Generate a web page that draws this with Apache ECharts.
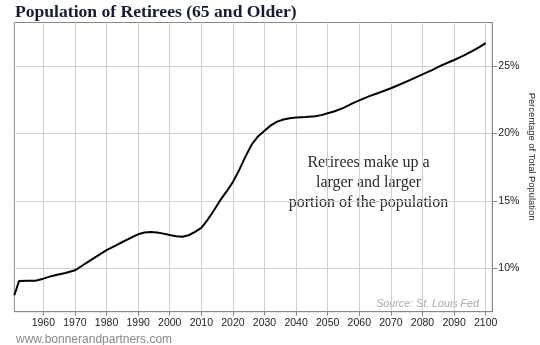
<!DOCTYPE html>
<html>
<head>
<meta charset="utf-8">
<script src="https://cdn.jsdelivr.net/npm/echarts@6/dist/echarts.min.js"></script>
<style>
html,body{margin:0;padding:0;background:#fff;}
#chart{width:540px;height:345px;}
</style>
</head>
<body>
<div id="chart"></div>
<script>
const titleText = 'Population of Retirees (65 and Older)';
const yAxisName = 'Percentage of Total Population';
const noteLines = ['Retirees make up a', 'larger and larger', 'portion of the population'];
const sourceText = 'Source: St. Louis Fed';
const siteText = 'www.bonnerandpartners.com';

const years = [1950.8, 1951.4, 1952.3, 1955, 1957.5, 1960, 1962, 1964, 1967, 1970,
  1972, 1975, 1978, 1980, 1983, 1985, 1988, 1990, 1992, 1994,
  1996, 1998, 2000, 2002, 2004, 2006, 2008, 2010, 2012, 2014,
  2016, 2018, 2020, 2022, 2024, 2026, 2028, 2030, 2032, 2034,
  2036, 2038, 2040, 2043, 2046, 2048, 2050, 2052, 2055, 2058,
  2060, 2063, 2066, 2070, 2073, 2076, 2080, 2083, 2086, 2090,
  2093, 2096, 2098, 2100];
const shares = [8.0, 8.0, 9.05, 9.07, 9.08, 9.23, 9.38, 9.5, 9.65, 9.85,
  10.15, 10.6, 11.05, 11.35, 11.7, 11.95, 12.3, 12.52, 12.65, 12.7,
  12.66, 12.57, 12.47, 12.38, 12.34, 12.45, 12.7, 13.0, 13.6, 14.3,
  15.05, 15.7, 16.4, 17.3, 18.3, 19.2, 19.8, 20.2, 20.6, 20.88,
  21.03, 21.13, 21.18, 21.22, 21.28, 21.36, 21.5, 21.63, 21.9, 22.25,
  22.45, 22.75, 23.0, 23.35, 23.65, 23.95, 24.38, 24.7, 25.05, 25.45,
  25.78, 26.15, 26.4, 26.7];
const xTicks = [1960, 1970, 1980, 1990, 2000, 2010, 2020, 2030, 2040, 2050, 2060, 2070, 2080, 2090, 2100];
const yTicks = [10, 15, 20, 25];

const data = years.map((y, i) => [y, shares[i]]);

const chart = echarts.init(document.getElementById('chart'), null, {renderer: 'canvas'});
chart.setOption({
  animation: false,
  backgroundColor: '#fff',
  title: {
    text: titleText,
    left: 15,
    top: 3,
    padding: 0,
    textStyle: {fontFamily: 'Liberation Serif', fontWeight: 'bold', fontSize: 17.6, color: '#161c36'}
  },
  grid: {left: 14.3, right: 47.7, top: 22.5, bottom: 33.3, show: true, borderColor: '#888', borderWidth: 1, containLabel: false},
  xAxis: {
    type: 'value',
    min: 1950.8,
    max: 2102.1,
    splitNumber: 15,
    minInterval: 10,
    maxInterval: 10,
    axisLine: {show: true, lineStyle: {color: '#888'}},
    axisTick: {show: true, length: 4, lineStyle: {color: '#888'}, customValues: xTicks},
    axisLabel: {
      margin: 6, fontFamily: 'Liberation Sans', fontSize: 10.5, color: '#222',
      customValues: xTicks,
      formatter: v => (xTicks.indexOf(Math.round(v)) >= 0 && Math.abs(v - Math.round(v)) < 1e-6) ? String(Math.round(v)) : ''
    },
    splitLine: {show: true, lineStyle: {color: '#d0d0d0', width: 1}}
  },
  yAxis: {
    type: 'value',
    position: 'right',
    min: 6.78,
    max: 28.23,
    splitNumber: 5,
    minInterval: 5,
    maxInterval: 5,
    axisLine: {show: true, lineStyle: {color: '#888'}},
    axisTick: {show: true, length: 5, lineStyle: {color: '#888'}, customValues: yTicks},
    axisLabel: {
      margin: 6, fontFamily: 'Liberation Sans', fontSize: 10.5, color: '#222',
      customValues: yTicks,
      formatter: v => (yTicks.indexOf(Math.round(v)) >= 0 && Math.abs(v - Math.round(v)) < 1e-6) ? Math.round(v) + '%' : ''
    },
    splitLine: {show: true, lineStyle: {color: '#d0d0d0', width: 1}}
  },
  graphic: [
    {
      type: 'text', x: 531.5, y: 156.5, rotation: -Math.PI / 2,
      style: {text: yAxisName, fontFamily: 'Liberation Sans', fontSize: 9.4, fill: '#222', align: 'center', verticalAlign: 'middle'}
    },
    {
      type: 'text', x: 368.5, y: 183,
      style: {text: noteLines.join('\n'), fontFamily: 'Liberation Serif', fontSize: 16, lineHeight: 20, fill: '#2a2a2a', align: 'center', verticalAlign: 'middle'}
    },
    {
      type: 'text', x: 479, y: 304,
      style: {text: sourceText, fontFamily: 'Liberation Sans', fontStyle: 'italic', fontSize: 10.7, fill: '#aaa', align: 'right', verticalAlign: 'middle'}
    },
    {
      type: 'text', x: 16, y: 340,
      style: {text: siteText, fontFamily: 'Liberation Sans', fontSize: 12, fill: '#888', align: 'left', verticalAlign: 'middle'}
    }
  ],
  series: [{
    type: 'line',
    data: data,
    showSymbol: false,
    smooth: false,
    lineStyle: {color: '#000', width: 2},
    z: 5
  }]
});
</script>
</body>
</html>
